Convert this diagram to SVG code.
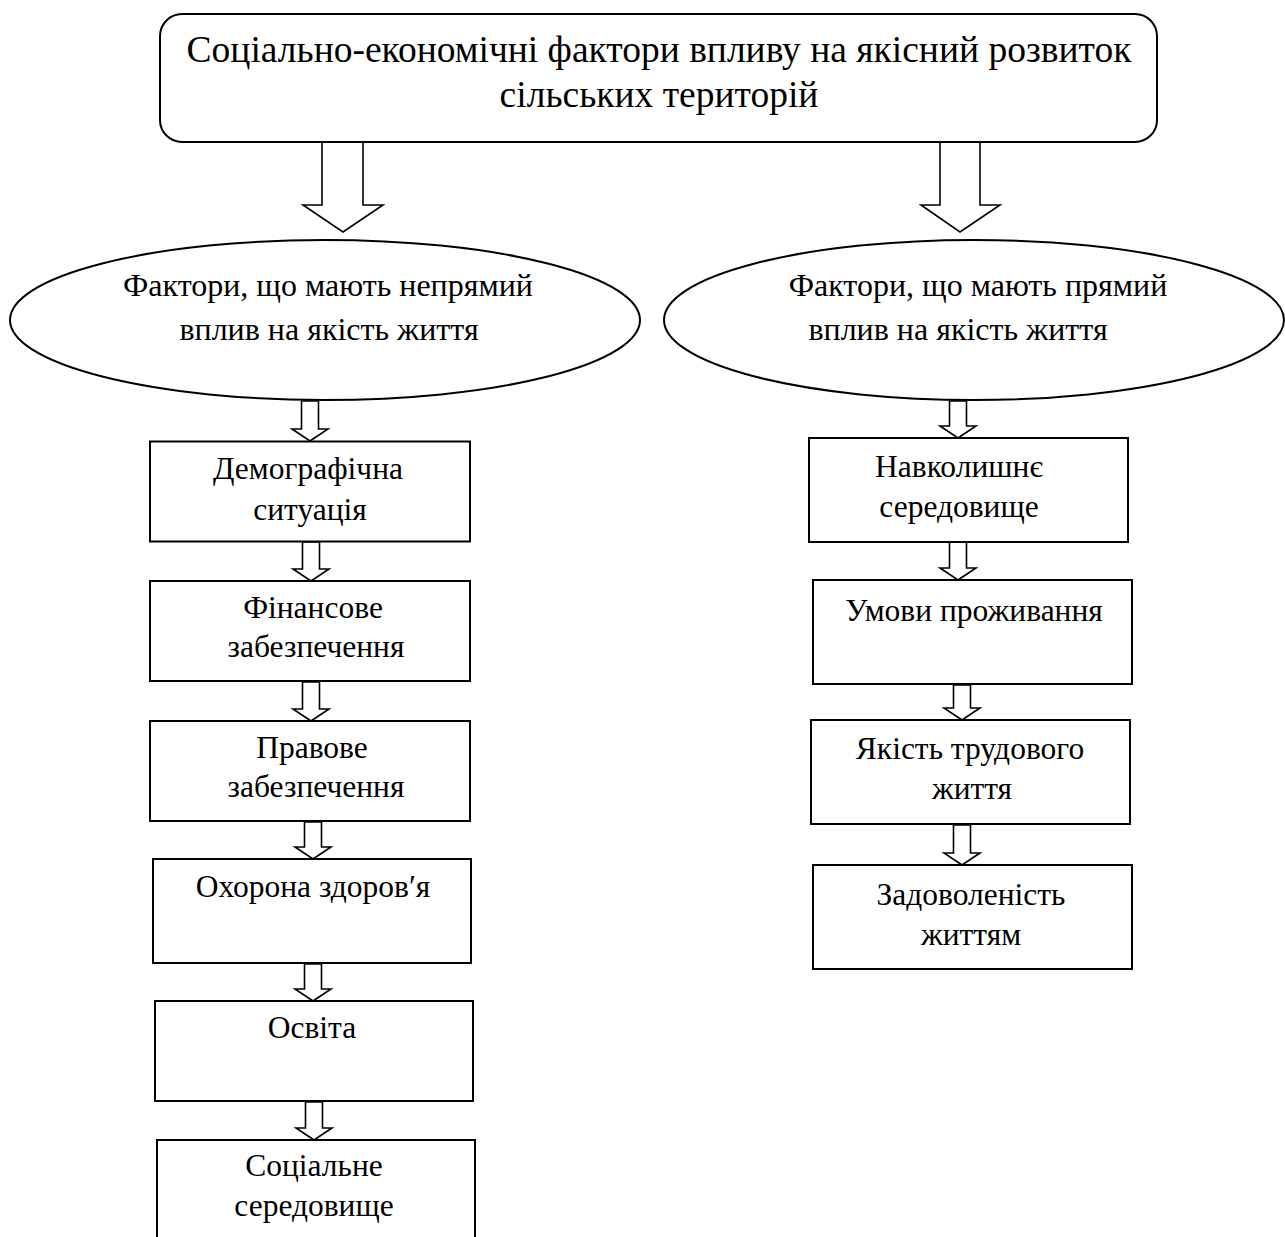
<svg xmlns="http://www.w3.org/2000/svg" width="1285" height="1237" viewBox="0 0 1285 1237">
<style>
.s{fill:#fff;stroke:#000;stroke-width:2}
.a{fill:#fff;stroke:#000;stroke-width:1.6;stroke-linejoin:miter}
text{font-family:"Liberation Serif","Times New Roman",serif;fill:#000;text-anchor:middle}
.t{font-size:37.5px}
.e{font-size:32px}
.b{font-size:31.5px}
</style>
<rect width="1285" height="1237" fill="#fff"/>
<g id="connectors">
<polygon class="a" points="322,142 363,142 363,205 383,205 343,232 303,205 322,205"/>
<polygon class="a" points="940,142 980,142 980,205 1000,205 960,232 921,205 940,205"/>
<polygon class="a" points="301.5,401 318.5,401 318.5,429 328,429 310,441 292,429 301.5,429"/>
<polygon class="a" points="302.5,542 319.5,542 319.5,569 329,569 311,581 293,569 302.5,569"/>
<polygon class="a" points="302.5,682 319.5,682 319.5,709 329,709 311,721 293,709 302.5,709"/>
<polygon class="a" points="304.5,822 321.5,822 321.5,847 331,847 313,859 295,847 304.5,847"/>
<polygon class="a" points="304.5,964 321.5,964 321.5,989 331,989 313,1001 295,989 304.5,989"/>
<polygon class="a" points="305.5,1102 322.5,1102 322.5,1128 332,1128 314,1140 296,1128 305.5,1128"/>
<polygon class="a" points="949.5,401 966.5,401 966.5,426 976,426 958,438 940,426 949.5,426"/>
<polygon class="a" points="949.5,542 966.5,542 966.5,568 976,568 958,580 940,568 949.5,568"/>
<polygon class="a" points="953.5,685 970.5,685 970.5,708 980,708 962,720 944,708 953.5,708"/>
<polygon class="a" points="953.5,825 970.5,825 970.5,853 980,853 962,865 944,853 953.5,853"/>
</g>
<g id="title">
<rect class="s" x="160" y="14" width="997" height="128" rx="22"/>
<text class="t" x="659" y="62">Соціально-економічні фактори впливу на якісний розвиток</text>
<text class="t" x="659" y="107">сільських територій</text>
</g>
<g id="indirect">
<ellipse class="s" cx="325" cy="320" rx="315" ry="80"/>
<text class="e" x="328" y="296">Фактори, що мають непрямий</text>
<text class="e" x="329" y="340">вплив на якість життя</text>
</g>
<g id="direct">
<ellipse class="s" cx="974" cy="320" rx="310" ry="80"/>
<text class="e" x="978" y="296">Фактори, що мають прямий</text>
<text class="e" x="958" y="340">вплив на якість життя</text>
</g>
<g id="demo">
<rect class="s" x="150" y="441.5" width="320" height="100"/>
<text class="b" x="308" y="479">Демографічна</text>
<text class="b" x="310" y="520">ситуація</text>
</g>
<g id="fin">
<rect class="s" x="150" y="581" width="320" height="100"/>
<text class="b" x="313" y="618">Фінансове</text>
<text class="b" x="316" y="657">забезпечення</text>
</g>
<g id="law">
<rect class="s" x="150" y="721" width="320" height="100"/>
<text class="b" x="312" y="758">Правове</text>
<text class="b" x="316" y="797">забезпечення</text>
</g>
<g id="health">
<rect class="s" x="153" y="859" width="318" height="104"/>
<text class="b" x="313" y="897">Охорона здоров′я</text>
</g>
<g id="edu">
<rect class="s" x="155" y="1001" width="318" height="100"/>
<text class="b" x="312" y="1038">Освіта</text>
</g>
<g id="social">
<path class="s" d="M157,1239 V1140 H475 V1239"/>
<text class="b" x="314" y="1176">Соціальне</text>
<text class="b" x="314" y="1216">середовище</text>
</g>
<g id="env">
<rect class="s" x="809" y="438" width="319" height="104"/>
<text class="b" x="959" y="477">Навколишнє</text>
<text class="b" x="959" y="517">середовище</text>
</g>
<g id="living">
<rect class="s" x="813" y="580" width="319" height="104"/>
<text class="b" x="974" y="621">Умови проживання</text>
</g>
<g id="work">
<rect class="s" x="811" y="720" width="319" height="104"/>
<text class="b" x="970" y="759">Якість трудового</text>
<text class="b" x="972" y="799">життя</text>
</g>
<g id="satisf">
<rect class="s" x="813" y="865" width="319" height="104"/>
<text class="b" x="971" y="905">Задоволеність</text>
<text class="b" x="971" y="945">життям</text>
</g>
</svg>
